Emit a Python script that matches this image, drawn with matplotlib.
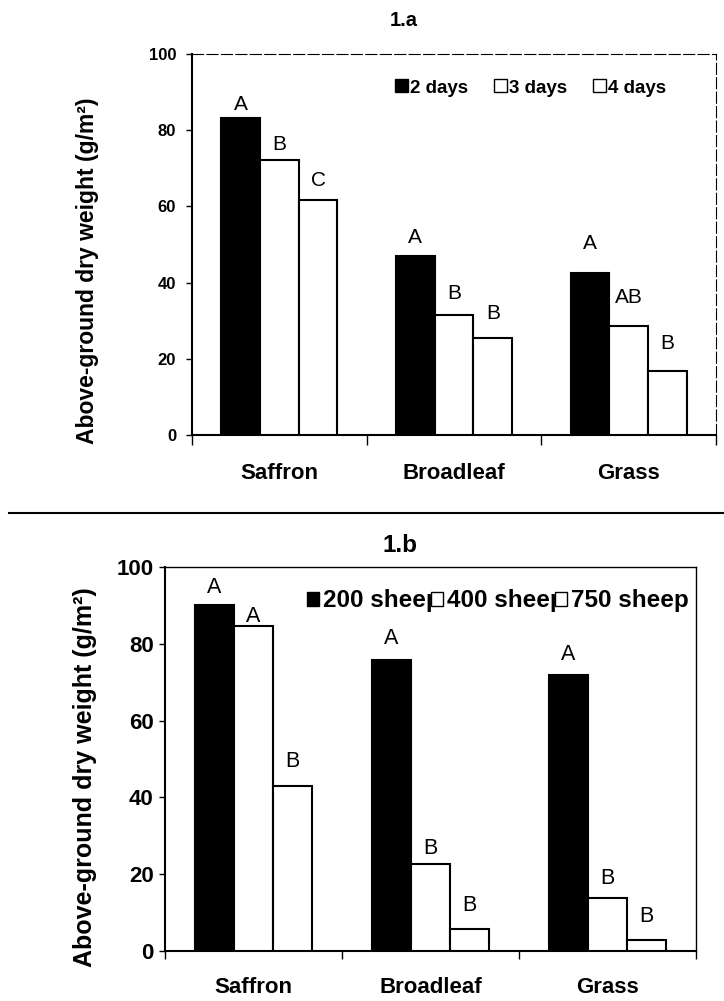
import numpy as np
import matplotlib.pyplot as plt
from matplotlib.patches import Patch
from matplotlib.lines import Line2D

plt.rcParams['font.family'] = ['Liberation Sans', 'DejaVu Sans']

# data
categories = ['Saffron', 'Broadleaf', 'Grass']

#1.a  drying time
days_labels = ['2 days', '3 days', '4 days']
weight_2d = [83.3, 47.1, 42.5]
weight_3d = [72.2, 31.6, 28.5]
weight_4d = [61.8, 25.4, 16.9]
letters_2d = ['A', 'A', 'A']
letters_3d = ['B', 'B', 'AB']
letters_4d = ['C', 'B', 'B']

#1.b  flock size
sheep_labels = ['200 sheep', '400 sheep', '750 sheep']
weight_200 = [90.2, 75.9, 71.8]
weight_400 = [84.6, 22.7, 13.9]
weight_750 = [42.9, 5.8, 2.8]
letters_200 = ['A', 'A', 'A']
letters_400 = ['A', 'B', 'B']
letters_750 = ['B', 'B', 'B']

# gap between bar top and letter (data units)
gap_a = [[1.9, 3.4, 6.3], [2.5, 4.0, 6.2], [3.6, 5.0, 5.6]]
gap_b = [[3.1, 4.1, 3.9], [1.0, 2.6, 3.6], [5.0, 4.5, 4.7]]

W, H = 724.0, 1001.0
fig = plt.figure(figsize=(7.24, 10.01), dpi=100)
ax1 = fig.add_axes([192/W, 1-435/H, 524/W, 381/H])
ax2 = fig.add_axes([165/W, 1-951/H, 531/W, 384/H])

x = np.arange(len(categories))
w = 0.222
colors = ['black', 'white', 'white']


def draw_panel(ax, series, letters, gaps, tick_fs, cat_fs, let_fs, xtick_len, cat_pad, ytick_pad):
    for i, (vals, lets, gp) in enumerate(zip(series, letters, gaps)):
        xs = x + (i-1)*w
        ax.bar(xs, vals, w, color=colors[i], edgecolor='black', linewidth=1.5, zorder=3)
        for xx, v, l, g in zip(xs, vals, lets, gp):
            ax.text(xx, v+g, l, ha='center', va='baseline', fontsize=let_fs, zorder=4)
    ax.set_xlim(-0.5, 2.5)
    ax.set_ylim(0, 100)
    ax.set_yticks(np.arange(0, 101, 20))
    ax.tick_params(axis='y', direction='out', length=4.5, width=1, labelsize=tick_fs, pad=ytick_pad)
    for t in ax.get_yticklabels():
        t.set_fontweight('bold')
    ax.set_xticks([-0.5, 0.5, 1.5, 2.5])
    ax.set_xticklabels([])
    ax.tick_params(axis='x', which='major', direction='out', length=xtick_len, width=1)
    ax.set_xticks(x, minor=True)
    ax.set_xticklabels(categories, minor=True, fontsize=cat_fs, fontweight='bold')
    ax.tick_params(axis='x', which='minor', length=0, pad=cat_pad)
    ax.spines['left'].set_linewidth(1.5)
    ax.spines['bottom'].set_linewidth(1.5)


draw_panel(ax1, [weight_2d, weight_3d, weight_4d],
           [letters_2d, letters_3d, letters_4d], gap_a,
           12, 16, 15, 7, 20, 7)
ax1.spines['top'].set_linestyle((0, (10, 3)))
ax1.spines['right'].set_linestyle((0, (10, 3)))
ax1.spines['top'].set_linewidth(0.8)
ax1.spines['right'].set_linewidth(0.8)

draw_panel(ax2, [weight_200, weight_400, weight_750],
           [letters_200, letters_400, letters_750], gap_b,
           16, 16, 15.5, 6, 19, 3.6)
ax2.spines['top'].set_linewidth(1)
ax2.spines['right'].set_linewidth(1)

# legends
h1 = [Patch(facecolor=c, edgecolor='black', linewidth=1) for c in colors]
ax1.legend(h1, days_labels, ncol=3, loc='center left',
           bbox_to_anchor=(395/W, 1-88/H), bbox_transform=fig.transFigure,
           frameon=False, prop={'weight': 'bold', 'size': 13.5},
           handlelength=0.69, handleheight=0.69, handletextpad=0.1,
           columnspacing=1.4, borderpad=0, borderaxespad=0)
h2 = [Patch(facecolor=c, edgecolor='black', linewidth=1) for c in colors]
ax2.legend(h2, sheep_labels, ncol=3, loc='center left',
           bbox_to_anchor=(307/W, 1-601/H), bbox_transform=fig.transFigure,
           frameon=False, prop={'weight': 'bold', 'size': 17.5},
           handlelength=0.5, handleheight=0.5, handletextpad=0.16,
           columnspacing=-0.4, borderpad=0, borderaxespad=0)

# titles and y labels
fig.text(404/W, 1-20/H, '1.a', ha='center', va='center', fontsize=14.5, fontweight='bold')
fig.text(400/W, 1-545/H, '1.b', ha='center', va='center', fontsize=17.5, fontweight='bold')
fig.text(88/W, 1-271/H, 'Above-ground dry weight (g/m²)', rotation=90,
         ha='center', va='center', fontsize=16.5, fontweight='bold')
fig.text(85/W, 1-777/H, 'Above-ground dry weight (g/m²)', rotation=90,
         ha='center', va='center', fontsize=18, fontweight='bold')

# separator line between the panels
fig.add_artist(Line2D([9/W, 1.0], [1-513/H, 1-513/H], color='black', linewidth=1.5,
                      transform=fig.transFigure))

fig.savefig('out.png', dpi=100)
